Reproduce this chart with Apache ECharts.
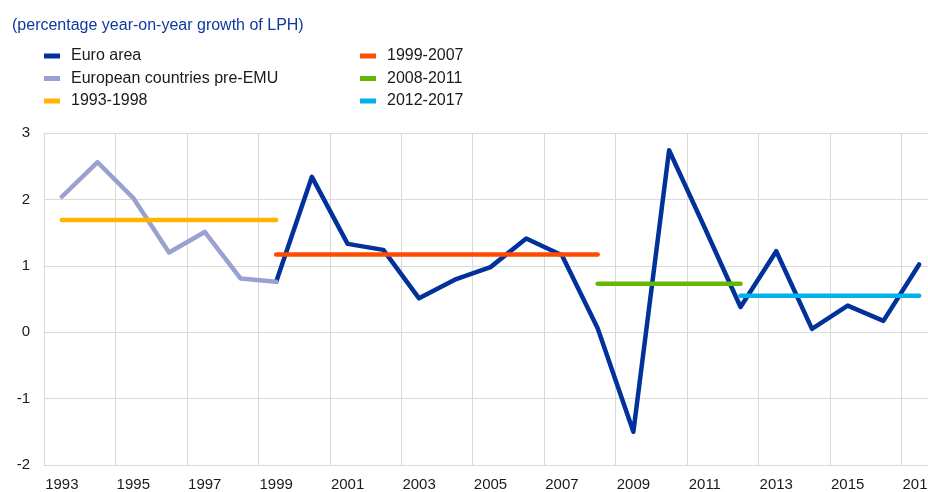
<!DOCTYPE html>
<html>
<head>
<meta charset="utf-8">
<script src="https://cdn.jsdelivr.net/npm/echarts@6/dist/echarts.min.js"></script>
<style>
  html, body { margin: 0; padding: 0; background: #fff; }
  #main-chart { width: 928px; height: 492px; }
</style>
</head>
<body>
<div id="main-chart"></div>
<script>
const years = ['1993', '1994', '1995', '1996', '1997', '1998', '1999', '2000', '2001', '2002', '2003', '2004',
    '2005', '2006', '2007', '2008', '2009', '2010', '2011', '2012', '2013', '2014', '2015', '2016', '2017'];

// euro area from 1999
const euroArea = ['-', '-', '-', '-', '-', '-', 0.76, 2.34, 1.33, 1.24, 0.51, 0.79,
    0.98, 1.41, 1.16, 0.06, -1.50, 2.74, 1.57, 0.38, 1.22, 0.05, 0.40, 0.17, 1.02];
const preEmu = [2.04, 2.56, 2.02, 1.20, 1.51, 0.81, 0.76];

// period averages: [first year, last point year, value]
const avg9398 = ['1993', '1999', 1.69];
const avg9907 = ['1999', '2008', 1.17];
const avg0811 = ['2008', '2012', 0.73];
const avg1217 = ['2012', '2017', 0.55];

function segment(p) {
    const a = years.indexOf(p[0]);
    const b = years.indexOf(p[1]);
    return years.map((y, i) => (i >= a && i <= b) ? p[2] : '-');
}

const textColor = '#1a1a1a';
const gridColor = '#d9d9d9';
const font = 'Arial, "Liberation Sans", sans-serif';

function lineSeries(name, data, color) {
    return {
        name: name,
        type: 'line',
        data: data,
        symbol: 'none',
        connectNulls: false,
        lineStyle: { color: color, width: 4.5, cap: 'round', join: 'round' },
        itemStyle: { color: color },
        emphasis: { disabled: true }
    };
}

const legendBase = {
    orient: 'vertical',
    icon: 'rect',
    padding: 0,
    itemWidth: 16,
    itemHeight: 5,
    itemGap: 6.5,
    textStyle: { color: textColor, fontSize: 16, fontFamily: font, lineHeight: 16, padding: [0, 0, 0, 6] },
    selectedMode: false
};

const myChart = echarts.init(document.getElementById('main-chart'));

const option = {
    animation: false,
    title: {
        text: '(percentage year-on-year growth of LPH)',
        left: 12,
        top: 18,
        padding: 0,
        textStyle: { color: '#0d3aa0', fontSize: 16, fontWeight: 'normal', fontFamily: font }
    },
    legend: [
        Object.assign({}, legendBase, { left: 44, top: 48, data: ['Euro area', 'European countries pre-EMU', '1993-1998'] }),
        Object.assign({}, legendBase, { left: 360, top: 48, data: ['1999-2007', '2008-2011', '2012-2017'] })
    ],
    grid: {
        left: 44,
        top: 133,
        right: -9,
        height: 332,
        containLabel: false,
        outerBoundsMode: 'none'
    },
    xAxis: {
        type: 'category',
        data: years,
        boundaryGap: true,
        axisLine: { show: true, lineStyle: { color: gridColor } },
        axisTick: { show: false },
        axisLabel: { interval: 1, color: textColor, fontSize: 15, fontFamily: font, margin: 12 },
        splitLine: { show: true, interval: 1, lineStyle: { color: gridColor, width: 1 } }
    },
    yAxis: {
        type: 'value',
        min: -2,
        max: 3,
        interval: 1,
        axisLine: { show: true, lineStyle: { color: gridColor } },
        axisTick: { show: false },
        axisLabel: { color: textColor, fontSize: 15, fontFamily: font, margin: 14 },
        splitLine: { show: true, lineStyle: { color: gridColor, width: 1 } }
    },
    series: [
        lineSeries('Euro area', euroArea, '#003299'),
        lineSeries('European countries pre-EMU', preEmu, '#98a1d0'),
        lineSeries('1993-1998', segment(avg9398), '#ffb400'),
        lineSeries('1999-2007', segment(avg9907), '#ff4b00'),
        lineSeries('2008-2011', segment(avg0811), '#65b800'),
        lineSeries('2012-2017', segment(avg1217), '#00b1ea')
    ]
};

myChart.setOption(option);
</script>
</body>
</html>
